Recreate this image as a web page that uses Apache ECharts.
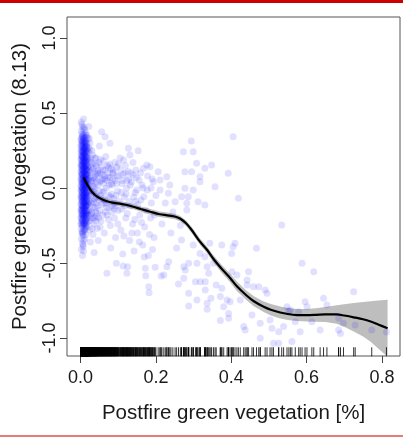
<!DOCTYPE html>
<html><head><meta charset="utf-8">
<script src="https://cdn.jsdelivr.net/npm/echarts@6/dist/echarts.min.js"></script>
<style>html,body{margin:0;padding:0;background:#fff}#c{width:403px;height:439px}</style>
</head><body><div id="c"></div>
<script>
// ---- data ----
const stripeX = [0.002, 0.0035, 0.005, 0.0065, 0.008, 0.0095, 0.011, 0.0125, 0.014, 0.0155, 0.017, 0.020,
  0.001, 0.004, 0.007, 0.010, 0.013, 0.016, 0.0185];
const stripeY = [
  [0.44,0.38,0.33,0.29,0.26,0.22,0.20,0.16,0.14,0.10,0.08,0.05,0.01,-0.01,-0.05,-0.07,-0.10,-0.14,-0.16,-0.19,-0.23,-0.27,-0.34,-0.41],
  [0.425,0.36,0.315,0.275,0.245,0.215,0.185,0.155,0.125,0.095,0.065,0.035,0.005,-0.025,-0.055,-0.085,-0.115,-0.145,-0.175,-0.205,-0.245,-0.30],
  [0.41,0.35,0.31,0.28,0.24,0.21,0.18,0.15,0.12,0.09,0.06,0.03,0.00,-0.03,-0.06,-0.09,-0.12,-0.15,-0.18,-0.21,-0.25,-0.30,-0.37,-0.45],
  [0.395,0.345,0.305,0.265,0.235,0.205,0.175,0.145,0.115,0.085,0.055,0.025,-0.005,-0.035,-0.065,-0.095,-0.125,-0.155,-0.185,-0.22,-0.26,-0.32,-0.39],
  [0.46,0.36,0.32,0.27,0.25,0.22,0.19,0.17,0.13,0.10,0.07,0.04,0.01,-0.02,-0.05,-0.08,-0.11,-0.13,-0.17,-0.20,-0.24,-0.29,-0.35,-0.42],
  [0.405,0.33,0.29,0.255,0.225,0.195,0.165,0.135,0.105,0.075,0.045,0.015,-0.015,-0.045,-0.075,-0.105,-0.135,-0.165,-0.195,-0.235,-0.275],
  [0.39,0.34,0.30,0.27,0.23,0.20,0.17,0.14,0.11,0.08,0.05,0.02,-0.01,-0.04,-0.07,-0.10,-0.13,-0.16,-0.19,-0.23,-0.28,-0.34],
  [0.355,0.31,0.275,0.24,0.21,0.18,0.15,0.12,0.09,0.06,0.03,0.00,-0.03,-0.06,-0.09,-0.12,-0.15,-0.18,-0.215,-0.25],
  [0.37,0.32,0.28,0.25,0.22,0.18,0.15,0.12,0.09,0.06,0.03,0.00,-0.03,-0.06,-0.09,-0.12,-0.15,-0.18,-0.22,-0.26,-0.31],
  [0.34,0.29,0.24,0.20,0.16,0.125,0.09,0.055,0.02,-0.015,-0.05,-0.085,-0.12,-0.16,-0.20,-0.24],
  [0.35,0.30,0.26,0.21,0.16,0.12,0.08,0.04,0.01,-0.03,-0.07,-0.11,-0.15,-0.20,-0.26],
  [0.33,0.27,0.20,0.14,0.09,0.05,0.00,-0.05,-0.10,-0.16,-0.22],
  [0.32,0.28,0.24,0.19,0.15,0.11,0.06,0.02,-0.02,-0.06,-0.11,-0.15,-0.20,-0.24],
  [0.34,0.30,0.25,0.21,0.17,0.13,0.09,0.04,-0.01,-0.04,-0.08,-0.13,-0.17,-0.22,-0.29],
  [0.33,0.29,0.24,0.20,0.16,0.12,0.07,0.03,-0.01,-0.05,-0.09,-0.14,-0.18,-0.23,-0.31,-0.38],
  [0.31,0.27,0.23,0.18,0.14,0.10,0.06,0.02,-0.02,-0.06,-0.10,-0.14,-0.19,-0.24],
  [0.30,0.26,0.21,0.17,0.13,0.08,0.04,0.00,-0.04,-0.08,-0.12,-0.17,-0.21,-0.27],
  [0.28,0.23,0.18,0.13,0.09,0.05,0.01,-0.04,-0.08,-0.12,-0.17,-0.23],
  [0.25,0.19,0.14,0.10,0.06,0.02,-0.02,-0.06,-0.11,-0.18]
];
const nearPts = [
  [0.022,0.41],[0.025,0.30],[0.024,0.18],[0.026,0.10],[0.023,0.02],[0.027,-0.05],[0.025,-0.12],[0.028,-0.20],[0.024,-0.28],[0.026,-0.36],
  [0.030,0.25],[0.031,0.12],[0.033,0.05],[0.032,-0.02],[0.034,-0.09],[0.030,-0.16],[0.035,-0.24],[0.033,-0.31],[0.036,-0.43],[0.038,0.20],
  [0.040,0.08],[0.041,-0.04],[0.039,-0.13],[0.042,-0.19],[0.044,-0.27],[0.043,0.15],[0.046,0.02],[0.048,-0.08],[0.047,-0.35],[0.050,0.28],
  [0.052,0.10],[0.051,-0.15],[0.054,-0.22],[0.056,0.375],[0.055,0.05],[0.058,-0.03],
  [0.021,0.06],[0.023,-0.09],[0.027,0.14],[0.029,-0.17],[0.032,0.22],[0.035,0.01],[0.037,-0.07],[0.039,0.11],[0.041,-0.22],[0.043,0.04],
  [0.045,-0.12],[0.049,0.17],[0.053,-0.05],[0.057,0.09],[0.059,-0.18],[0.061,0.03],[0.064,-0.08],[0.067,0.21],[0.069,-0.13],[0.072,0.10],
  [0.074,-0.21],[0.076,0.02],[0.081,0.13],[0.083,-0.16],[0.086,0.06],[0.089,-0.10],[0.091,0.17],[0.094,-0.05],[0.097,0.08],[0.099,-0.24],
  [0.021,0.24],[0.022,-0.15],[0.023,0.33],[0.024,-0.22],[0.025,0.08],[0.026,-0.02],[0.027,0.20],[0.028,-0.10],[0.029,0.04],[0.031,-0.27],
  [0.032,0.16],[0.034,-0.13],[0.036,0.07],[0.037,-0.20],[0.038,0.00],[0.040,0.16],[0.042,-0.10],[0.044,0.09],[0.045,-0.17],[0.047,0.12],
  [0.050,-0.02],[0.052,-0.26],[0.055,0.14],[0.058,0.06],[0.060,-0.07],[0.063,0.08],[0.066,-0.16],[0.070,0.05],[0.074,0.14],[0.079,-0.06],
  [0.084,0.02],[0.090,-0.14],
  [0.0215,0.12],[0.0225,-0.04],[0.024,0.26],[0.0255,-0.18],[0.027,0.05],[0.0285,0.17],[0.030,-0.08],[0.031,0.01],[0.033,-0.20],[0.034,0.13],
  [0.036,-0.03],[0.038,0.06],[0.040,-0.16],[0.041,0.20],[0.043,-0.06],[0.046,0.10],[0.048,-0.20],[0.051,0.04],[0.053,0.19],[0.056,-0.11],
  [0.059,0.12],[0.062,-0.02],[0.065,0.06],[0.068,-0.10],[0.071,0.15],[0.075,-0.13],[0.078,0.07],[0.082,-0.04],[0.087,0.10],[0.092,-0.12],
  [0.096,0.03],[0.101,0.16],[0.108,-0.03],[0.113,0.09],[0.117,-0.12],[0.123,0.05],[0.134,0.10],[0.146,-0.09]
];
const midPts = [
  [0.060,0.18],[0.062,-0.10],[0.063,-0.30],[0.065,0.342],[0.066,0.12],[0.068,0.00],[0.070,-0.569],[0.071,-0.18],[0.073,0.07],[0.075,-0.05],
  [0.078,0.298],[0.077,0.16],[0.079,-0.25],[0.080,-0.40],[0.082,0.03],[0.084,-0.12],[0.085,0.10],[0.087,0.12],[0.088,-0.07],[0.090,-0.20],
  [0.092,0.05],[0.093,-0.33],[0.095,-0.502],[0.096,0.14],[0.098,-0.02],[0.100,-0.15],
  [0.102,0.08],[0.105,0.20],[0.107,-0.28],[0.110,0.03],[0.112,-0.44],[0.113,-0.52],[0.114,0.187],[0.116,-0.06],[0.118,0.10],[0.120,-0.20],
  [0.122,0.00],[0.123,-0.569],[0.125,-0.525],[0.127,0.265],[0.128,0.06],[0.130,-0.35],[0.131,0.22],[0.133,-0.12],[0.135,0.04],[0.138,-0.24],
  [0.140,0.087],[0.142,-0.42],[0.145,-0.03],[0.147,0.12],[0.149,-0.013],[0.151,-0.30],[0.153,0.249],[0.155,0.053],[0.157,-0.18],[0.160,-0.08],
  [0.163,0.02],[0.165,-0.38],[0.167,0.131],[0.168,-0.058],[0.170,-0.26],[0.172,-0.535],[0.173,-0.585],[0.176,0.153],[0.177,-0.013],[0.180,-0.45],
  [0.181,-0.658],[0.182,-0.698],[0.184,0.142],[0.186,-0.20],[0.188,-0.10],[0.190,0.06],[0.193,0.042],[0.195,-0.33],[0.198,-0.529],[0.200,-0.05],
  [0.103,-0.09],[0.106,0.12],[0.109,-0.14],[0.111,0.05],[0.115,-0.32],[0.119,0.15],[0.121,-0.04],[0.124,-0.17],[0.126,0.11],[0.129,-0.09],
  [0.132,0.02],[0.136,-0.30],[0.139,0.17],[0.141,-0.06],[0.144,-0.21],[0.148,0.07],[0.152,-0.11],[0.156,-0.36],[0.159,0.10],[0.162,-0.23],
  [0.166,0.00],[0.169,-0.46],[0.174,-0.15],[0.178,0.08],[0.183,-0.31],[0.187,0.00],[0.191,-0.41],[0.196,-0.18]
];
const farPts = [
  [0.206,0.109],[0.211,-0.013],[0.211,0.053],[0.214,-0.587],[0.216,-0.24],[0.221,-0.58],[0.225,-0.10],[0.229,0.075],[0.229,-0.525],[0.233,-0.035],
  [0.234,-0.491],[0.237,0.02],[0.240,-0.30],[0.245,-0.16],[0.251,-0.091],[0.255,-0.40],[0.260,-0.64],[0.265,-0.25],[0.268,-0.058],[0.268,-0.347],
  [0.273,0.242],[0.274,-0.525],[0.274,-0.602],[0.277,0.109],[0.277,-0.002],[0.278,-0.547],[0.282,-0.102],[0.282,-0.147],[0.286,-0.058],[0.287,-0.502],
  [0.287,-0.702],[0.287,-0.787],[0.294,0.313],[0.295,0.109],[0.299,0.242],[0.299,-0.013],[0.299,-0.38],
  [0.305,-0.625],[0.308,0.165],[0.309,-0.502],[0.309,-0.747],[0.312,-0.091],[0.317,0.075],[0.317,0.042],[0.317,-0.436],[0.318,-0.625],
  [0.330,0.131],[0.330,-0.113],[0.330,-0.458],[0.331,-0.625],[0.331,-0.68],[0.336,-0.525],[0.336,-0.769],[0.336,-0.809],[0.340,-0.569],[0.343,-0.369],
  [0.346,-0.735],[0.348,0.153],[0.353,-0.502],[0.357,0.009],[0.360,-0.647],[0.371,-0.724],[0.371,-0.884],[0.375,-0.38],[0.375,-0.669],[0.380,-0.791],
  [0.389,-0.747],[0.392,0.098],[0.393,-0.836],[0.393,-0.869],[0.397,-0.758],[0.401,-0.436],[0.402,-0.558],[0.405,0.342],[0.405,-0.391],[0.410,-0.369],
  [0.415,-0.58],[0.419,-0.069],
  [0.424,-0.747],[0.433,-0.924],[0.437,-0.947],[0.442,-0.613],[0.442,-0.647],[0.446,-0.558],[0.455,-0.847],[0.459,-0.658],[0.467,-0.402],[0.473,-0.658],
  [0.477,-0.902],[0.477,-1.002],[0.490,-0.68],[0.495,-0.702],[0.503,-0.88],[0.508,-0.935],[0.512,-1.035],[0.526,-0.958],[0.526,-1.035],[0.534,-0.247],
  [0.539,-0.924],[0.548,-0.791],[0.553,-0.82],[0.557,-0.813],[0.561,-1.024],[0.570,-0.891],[0.579,-0.825],[0.583,-0.958],[0.588,-0.502],[0.596,-0.758],
  [0.601,-0.791],[0.614,-0.891],[0.619,-0.558],[0.636,-0.947],[0.645,-0.735],[0.654,-0.78],[0.685,-0.869],[0.685,-0.947],[0.690,-0.97],[0.698,-0.902],
  [0.725,-0.691],[0.729,-0.913],[0.773,-0.947],[0.812,-0.96]
];
const fitX = [0.008,0.015,0.022,0.03,0.044,0.061,0.08,0.1,0.12,0.14,0.16,0.185,0.21,0.23,0.25,0.265,0.28,0.295,0.317,0.335,
  0.352,0.375,0.397,0.415,0.44,0.46,0.485,0.505,0.53,0.55,0.575,0.6,0.625,0.65,0.68,0.7,0.725,0.75,0.77,0.79,0.815];
const fitY = [0.07,0.035,0.005,-0.025,-0.058,-0.08,-0.095,-0.103,-0.112,-0.125,-0.14,-0.158,-0.175,-0.182,-0.19,-0.205,-0.235,-0.28,-0.358,-0.41,
  -0.47,-0.54,-0.6,-0.655,-0.715,-0.755,-0.79,-0.812,-0.83,-0.84,-0.847,-0.848,-0.846,-0.843,-0.843,-0.85,-0.862,-0.875,-0.89,-0.91,-0.935];
const bandHi = [0.105,0.065,0.03,-0.003,-0.038,-0.062,-0.078,-0.086,-0.095,-0.108,-0.123,-0.14,-0.157,-0.164,-0.172,-0.187,-0.216,-0.26,-0.337,-0.388,
  -0.446,-0.514,-0.572,-0.624,-0.683,-0.722,-0.755,-0.774,-0.79,-0.8,-0.807,-0.806,-0.801,-0.793,-0.781,-0.775,-0.767,-0.76,-0.755,-0.75,-0.745];
const bandLo = [0.035,0.005,-0.02,-0.047,-0.078,-0.098,-0.112,-0.12,-0.129,-0.142,-0.157,-0.176,-0.193,-0.2,-0.208,-0.223,-0.254,-0.3,-0.379,-0.432,
  -0.494,-0.566,-0.628,-0.686,-0.747,-0.788,-0.825,-0.85,-0.87,-0.88,-0.887,-0.89,-0.891,-0.893,-0.905,-0.925,-0.957,-0.99,-1.025,-1.07,-1.125];
const xTicks = [0, 0.2, 0.4, 0.6, 0.8];
const yTicks = [-1, -0.5, 0, 0.5, 1];

// ---- build ----
const points = [];
stripeX.forEach((x, i) => stripeY[i].forEach(y => points.push([x, y])));
nearPts.concat(midPts, farPts).forEach(p => points.push(p));
const rugY = -1.092;
const rug = points.map(p => [p[0], rugY]);

const FONT = 'Liberation Sans, Arial, sans-serif';
const chart = echarts.init(document.getElementById('c'), null, {renderer: 'canvas'});
chart.setOption({
  animation: false,
  backgroundColor: '#fff',
  grid: {left: 67, right: 3, top: 17, bottom: 83, show: true, borderColor: '#555', borderWidth: 1},
  graphic: [
    {type: 'rect', left: 0, top: 0, shape: {width: 403, height: 3}, style: {fill: '#cc0000'}},
    {type: 'rect', left: 0, top: 435, shape: {width: 403, height: 2}, style: {fill: '#e87a7a'}}
  ],
  xAxis: {
    type: 'value', min: -0.036, max: 0.848,
    axisLine: {show: false, onZero: false}, splitLine: {show: false},
    axisTick: {show: true, length: 7, customValues: xTicks, lineStyle: {color: '#444'}},
    axisLabel: {customValues: xTicks, formatter: v => v.toFixed(1), fontSize: 18, color: '#1a1a1a', margin: 13, fontFamily: FONT},
    name: 'Postfire green vegetation [%]', nameLocation: 'middle', nameGap: 47,
    nameTextStyle: {fontSize: 20.5, color: '#1a1a1a', fontFamily: FONT}
  },
  yAxis: {
    type: 'value', min: -1.12, max: 1.14,
    axisLine: {show: false, onZero: false}, splitLine: {show: false},
    axisTick: {show: true, length: 7, customValues: yTicks, lineStyle: {color: '#444'}},
    axisLabel: {customValues: yTicks, formatter: v => v.toFixed(1), rotate: 90, fontSize: 18, color: '#1a1a1a', margin: 8, fontFamily: FONT},
    name: 'Postfire green vegetation (8.13)', nameLocation: 'middle', nameGap: 36, nameRotate: 90,
    nameTextStyle: {fontSize: 20.5, color: '#1a1a1a', fontFamily: FONT}
  },
  series: [
    {
      type: 'custom', silent: true, clip: true, z: 1,
      data: fitX.map((x, i) => [x, bandLo[i], bandHi[i]]),
      encode: {x: 0, y: [1, 2]},
      renderItem: (params, api) => {
        if (params.dataIndex !== 0) return null;
        const top = fitX.map((x, i) => api.coord([x, bandHi[i]]));
        const bot = fitX.map((x, i) => api.coord([x, bandLo[i]])).reverse();
        return {type: 'polygon', shape: {points: top.concat(bot)}, style: {fill: '#bebebe'}};
      }
    },
    {
      type: 'scatter', silent: true, z: 2, symbol: 'circle', symbolSize: 7,
      itemStyle: {color: 'rgba(0,0,255,0.15)'}, data: points
    },
    {
      type: 'line', silent: true, z: 3, showSymbol: false, smooth: 0.3,
      lineStyle: {color: '#000', width: 2.2}, data: fitX.map((x, i) => [x, fitY[i]])
    },
    {
      type: 'scatter', silent: true, z: 4, symbol: 'rect', symbolSize: [1, 9],
      itemStyle: {color: '#000'}, data: rug
    }
  ]
});
</script>
</body></html>
